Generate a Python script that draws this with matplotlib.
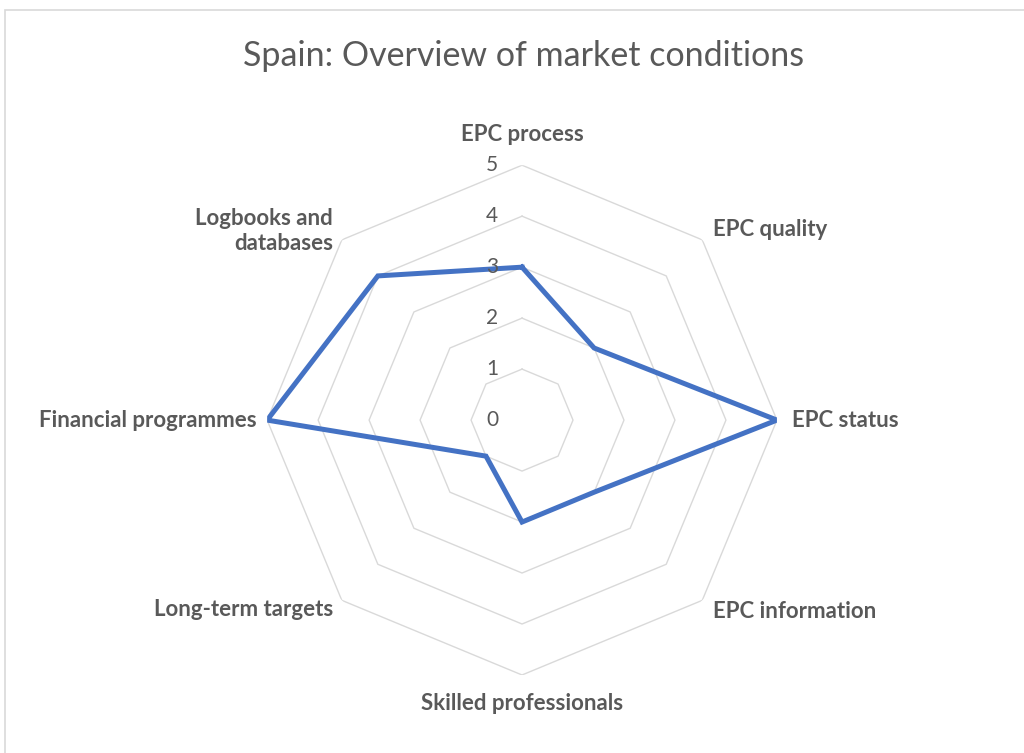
import numpy as np
import matplotlib
matplotlib.use("Agg")
import matplotlib.pyplot as plt
from matplotlib.patches import Rectangle
from matplotlib.transforms import offset_copy

# data (clockwise from top)
categories = ["EPC process", "EPC quality", "EPC status", "EPC information",
              "Skilled professionals", "Long-term targets", "Financial programmes",
              "Logbooks and\ndatabases"]
values = [3, 2, 5, 2, 2, 1, 5, 4]
levels = [0, 1, 2, 3, 4, 5]

grey = "#595959"
grid_c = "#d9d9d9"
blue = "#4472c4"
font = "Lato"

fig = plt.figure(figsize=(10.24, 7.53), dpi=100)
fig.patches.append(Rectangle((5 / 1024, -0.05), 1.1, 1 - 10 / 753 + 0.05,
                             transform=fig.transFigure, fill=False,
                             edgecolor=grid_c, linewidth=1.2))

ax = fig.add_axes([0.2608, 0.1036, 0.498, 0.677], projection="polar")
ax.set_theta_offset(np.pi / 2)
ax.set_theta_direction(-1)
ax.set_ylim(0, 5)
ax.set_xticks([])
ax.set_yticks([])
ax.grid(False)
ax.spines["polar"].set_visible(False)
ax.patch.set_alpha(0)

n = len(categories)
angles = np.linspace(0, 2 * np.pi, n, endpoint=False)
closed = np.append(angles, angles[0])

# octagon grid
for lv in levels[1:]:
    ax.plot(closed, [lv] * (n + 1), color=grid_c, lw=1.0, zorder=1)

# series
ax.plot(closed, values + values[:1], color=blue, lw=3.6, zorder=3,
        solid_joinstyle="miter")

# value labels along the top axis
tr = offset_copy(ax.transData, fig=fig, x=-30, y=0, units="dots")
for lv in levels:
    ax.text(0, lv, str(lv), transform=tr, ha="center", va="center",
            fontsize=15, color=grey, family=font)

# category labels
label_r = [5.6, 5.3, 5.3, 5.3, 5.55, 5.25, 5.2, 5.25]
for ang, lab, r in zip(angles, categories, label_r):
    s = np.sin(ang)
    ha = "center" if abs(s) < 0.1 else ("left" if s > 0 else "right")
    ax.text(ang, r, lab, ha=ha, va="center", multialignment="right",
            fontsize=16, fontweight="bold", color=grey, family=font,
            clip_on=False, linespacing=1.25)

fig.text(0.511, 1 - 56 / 753, "Spain: Overview of market conditions",
         ha="center", va="center", fontsize=24.5, color=grey, family=font)

fig.savefig("out.png", dpi=100)
